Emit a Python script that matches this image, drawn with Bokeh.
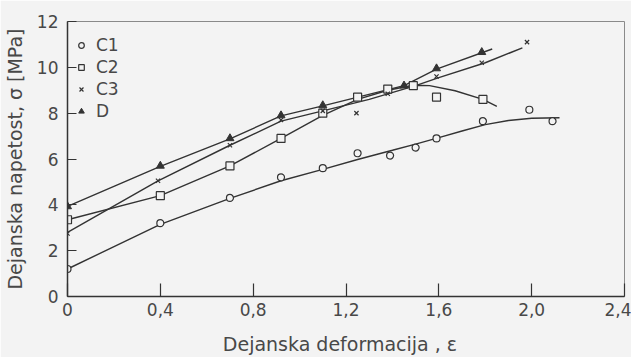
from bokeh.plotting import figure
from bokeh.models import Legend, LegendItem, FixedTicker, Range1d
from bokeh.embed import file_html
from bokeh.resources import INLINE

# ---- data ----
c1_x = [0.0, 0.40, 0.70, 0.92, 1.10, 1.25, 1.39, 1.50, 1.59, 1.79, 1.99, 2.09]
c1_y = [1.2, 3.2, 4.3, 5.2, 5.6, 6.25, 6.15, 6.5, 6.9, 7.65, 8.15, 7.65]
c1_curve_x = [0.0, 0.40, 0.70, 0.92, 1.10, 1.25, 1.40, 1.50, 1.60, 1.70, 1.80, 1.90, 2.00, 2.12]
c1_curve_y = [1.2, 3.15, 4.28, 5.05, 5.55, 5.98, 6.38, 6.65, 6.93, 7.22, 7.5, 7.68, 7.78, 7.8]

c2_x = [0.0, 0.40, 0.70, 0.92, 1.10, 1.25, 1.38, 1.49, 1.59, 1.79]
c2_y = [3.35, 4.4, 5.7, 6.9, 8.0, 8.7, 9.05, 9.2, 8.7, 8.6]
c2_curve_x = [0.0, 0.40, 0.70, 0.92, 1.10, 1.25, 1.38, 1.49, 1.56, 1.67, 1.79, 1.85]
c2_curve_y = [3.35, 4.4, 5.7, 6.9, 7.9, 8.6, 9.0, 9.22, 9.2, 8.98, 8.6, 8.3]

c3_x = [0.0, 0.39, 0.70, 0.92, 1.10, 1.245, 1.38, 1.59, 1.785, 1.98]
c3_y = [2.75, 5.05, 6.6, 7.7, 8.1, 8.0, 8.85, 9.6, 10.2, 11.1]
c3_curve_x = [0.0, 0.39, 0.70, 0.92, 1.10, 1.30, 1.50, 1.60, 1.80, 1.96]
c3_curve_y = [2.8, 5.05, 6.6, 7.65, 8.1, 8.6, 9.2, 9.55, 10.2, 10.85]

d_x = [0.0, 0.40, 0.70, 0.92, 1.10, 1.45, 1.59, 1.785]
d_y = [3.93, 5.7, 6.9, 7.9, 8.34, 9.2, 9.95, 10.66]
d_curve_x = [0.0, 0.40, 0.70, 0.92, 1.10, 1.45, 1.59, 1.83]
d_curve_y = [3.93, 5.68, 6.88, 7.88, 8.32, 9.2, 9.92, 10.8]

series_names = ["C1", "C2", "C3", "D"]
x_ticks = [0, 0.4, 0.8, 1.2, 1.6, 2.0, 2.4]
x_tick_labels = ["0", "0,4", "0,8", "1,2", "1,6", "2,0", "2,4"]
y_ticks = [0, 2, 4, 6, 8, 10, 12]
y_tick_labels = ["0", "2", "4", "6", "8", "10", "12"]

BG = "#f3f3f3"
INK = "#333333"
TXT = "#484848"
FONT = "DejaVu Sans"

p = figure(width=631, height=357, output_backend="svg", toolbar_location=None,
           x_range=Range1d(0, 2.4), y_range=Range1d(0, 12),
           min_border_left=67, min_border_right=7, min_border_top=21, min_border_bottom=61)
p.background_fill_color = BG
p.border_fill_color = BG
p.outline_line_color = "#8a8a8a"
p.outline_line_width = 1
p.grid.visible = False

for ax in (p.xaxis[0], p.yaxis[0]):
    ax.axis_line_color = INK
    ax.axis_line_width = 1.5
    ax.major_tick_line_color = INK
    ax.major_tick_line_width = 1.2
    ax.major_tick_out = 0
    ax.minor_tick_line_color = None
    ax.major_label_text_font = FONT
    ax.major_label_text_font_size = "17px"
    ax.major_label_text_color = TXT
    ax.axis_label_text_font = FONT
    ax.axis_label_text_font_size = "19px"
    ax.axis_label_text_font_style = "normal"
    ax.axis_label_text_color = TXT

p.xaxis[0].ticker = FixedTicker(ticks=x_ticks)
p.xaxis[0].major_label_overrides = dict(zip(x_ticks, x_tick_labels))
p.xaxis[0].major_tick_in = 13
p.xaxis[0].major_label_standoff = 6
p.xaxis[0].axis_label = "Dejanska  deformacija  , ε"
p.xaxis[0].axis_label_standoff = 14

p.yaxis[0].ticker = FixedTicker(ticks=y_ticks)
p.yaxis[0].major_label_overrides = dict(zip(y_ticks, y_tick_labels))
p.yaxis[0].major_tick_in = 9
p.yaxis[0].major_label_standoff = 9
p.yaxis[0].axis_label = "Dejanska napetost, σ [MPa]"
p.yaxis[0].axis_label_standoff = 8

lw = 1.4
p.line(c1_curve_x, c1_curve_y, line_color=INK, line_width=lw)
p.line(c2_curve_x, c2_curve_y, line_color=INK, line_width=lw)
p.line(c3_curve_x, c3_curve_y, line_color=INK, line_width=lw)
p.line(d_curve_x, d_curve_y, line_color=INK, line_width=lw)

r1 = p.scatter(c1_x, c1_y, marker="circle", size=7, line_color=INK, fill_color=BG, line_width=1.2)
r2 = p.scatter(c2_x, c2_y, marker="square", size=8, line_color=INK, fill_color=BG, line_width=1.2)
r3 = p.scatter(c3_x, c3_y, marker="x", size=6, line_color=INK, line_width=1.2)
r4 = p.scatter(d_x, d_y, marker="triangle", size=8, line_color=INK, fill_color=INK, line_width=1)

legend = Legend(items=[LegendItem(label=n, renderers=[r]) for n, r in zip(series_names, [r1, r2, r3, r4])],
                location=(7, 175), orientation="vertical")
legend.background_fill_alpha = 0
legend.border_line_color = None
legend.padding = 0
legend.margin = 0
legend.spacing = 2
legend.glyph_width = 14
legend.glyph_height = 20
legend.label_height = 20
legend.label_standoff = 8
legend.label_text_font = FONT
legend.label_text_font_size = "17px"
legend.label_text_color = TXT
p.add_layout(legend, "center")

html = file_html(p, INLINE)
html = html.replace("<body>", '<body style="background:%s">' % BG, 1)
open("out.html", "w").write(html)
